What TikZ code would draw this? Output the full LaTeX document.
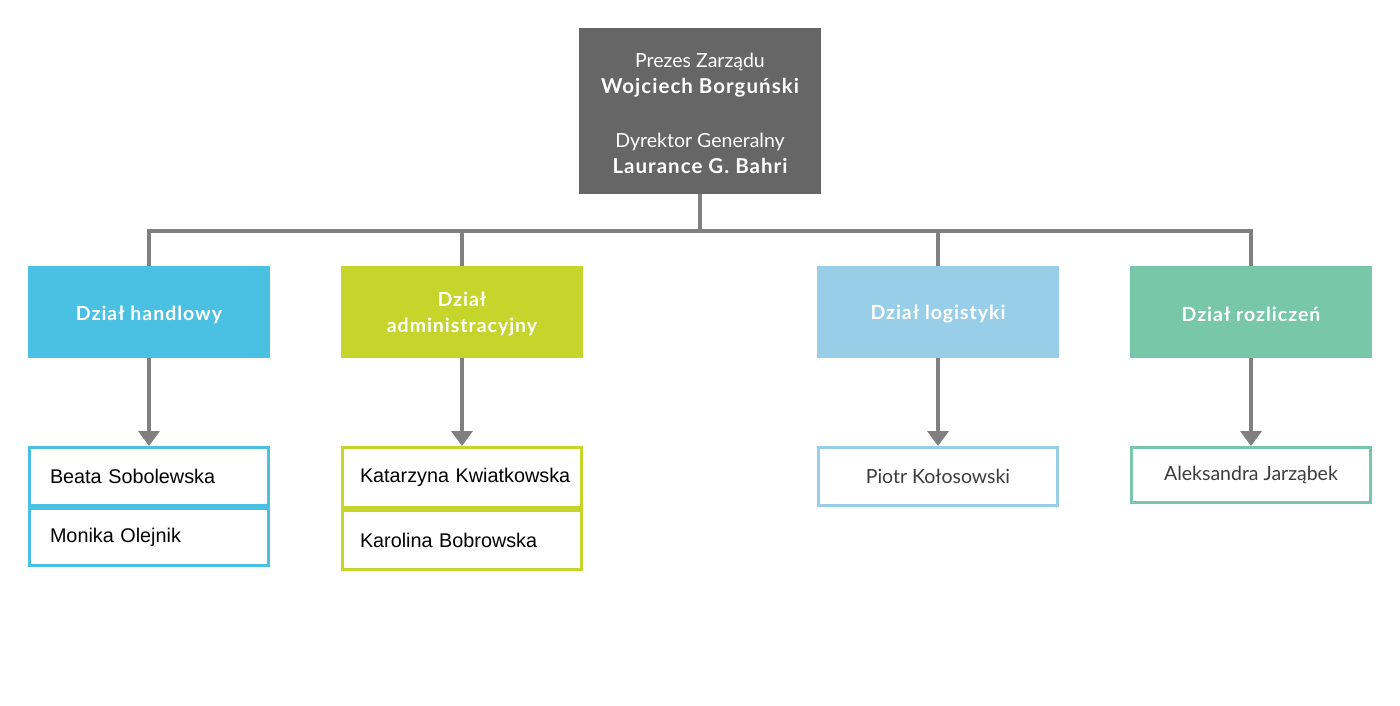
\documentclass[tikz,border=0pt]{standalone}
\usepackage{fontspec}
\setmainfont{Lato}[BoldFeatures={LetterSpace=5}]
\newfontfamily\arialf{Liberation Sans}
\usetikzlibrary{arrows.meta}
\definecolor{topgray}{RGB}{102,102,102}
\definecolor{linegray}{RGB}{128,128,128}
\definecolor{cblue}{RGB}{74,192,227}
\definecolor{cgreen}{RGB}{197,213,43}
\definecolor{clight}{RGB}{153,206,232}
\definecolor{cmint}{RGB}{119,199,168}
\definecolor{namegray}{RGB}{60,60,60}
\begin{document}
\begin{tikzpicture}[x=1pt,y=-1pt,
  topbox/.style={fill=topgray, minimum width=242pt, minimum height=166pt, inner sep=0pt},
  toptext/.style={text=white, inner sep=0pt, align=center, font=\fontsize{19.5}{26}\selectfont},
  dept/.style={fill=#1, minimum width=242pt, minimum height=92pt, inner sep=0pt},
  depttext/.style={text=white, inner sep=0pt, align=center, font=\fontsize{19.5}{26}\selectfont\bfseries},
  person/.style={draw=#1, line width=3pt, fill=white, minimum width=239pt, inner sep=0pt},
  pleft/.style={text width=#1, align=left, font=\arialf\fontsize{19.8}{22}\selectfont, text=black},
  pcent/.style={align=center, font=\fontsize{19.5}{22}\selectfont, text=namegray},
  conn/.style={draw=linegray, line width=4pt},
  arr/.style={draw=linegray, line width=4pt, -{Triangle[width=21pt,length=15pt]}}
]
\useasboundingbox (0,0) rectangle (1400,706);
\fill[white] (0,0) rectangle (1400,706);

\node[topbox] (top) at (700,111) {};
\node[toptext, yshift=-2.5pt] (toptxt) at (top.center) {Prezes Zarządu\\[0pt]{\bfseries\fontsize{20.5}{26}\selectfont Wojciech\ Borguński}\\[28pt]Dyrektor Generalny\\[0pt]{\bfseries\fontsize{20.5}{26}\selectfont Laurance G. Bahri}};

\node[dept=cblue] (d1) at (149,312) {};
\node[dept=cgreen] (d2) at (462,312) {};
\node[dept=clight] (d3) at (938,312) {};
\node[dept=cmint] (d4) at (1251,312) {};
\node[depttext, yshift=-2.5pt] (d1t) at (d1.center) {Dział handlowy};
\node[depttext, yshift=-2pt] (d2t) at (d2.center) {Dział\\[0pt]administracyjny};
\node[depttext, yshift=-2.5pt] (d3t) at (d3.center) {Dział logistyki};
\node[depttext, yshift=-2.5pt] (d4t) at (d4.center) {Dział rozliczeń};

\coordinate (bus) at (700,231);
\draw[conn] (top.south) -- (bus);
\draw[conn] (bus) -| (d1.north);
\draw[conn] (bus) -| (d2.north);
\draw[conn] (bus) -| (d3.north);
\draw[conn] (bus) -| (d4.north);

\node[person=cblue, minimum height=58pt, pleft=198pt] (p1a) at (149,476.5) {Beata Sobolewska};
\node[person=cblue, minimum height=57pt, pleft=198pt] (p1b) at (149,537) {\raisebox{-3pt}{Monika Olejnik}};
\node[person=cgreen, minimum height=60pt, pleft=204pt] (p2a) at (462,477.5) {\mbox{Katarzyna Kwiatkowska}};
\node[person=cgreen, minimum height=59pt, pleft=204pt] (p2b) at (462,540) {Karolina Bobrowska};
\node[person=clight, minimum height=58pt, pcent] (p3) at (938,476.5) {Piotr Kołosowski};
\node[person=cmint, minimum height=55pt, pcent] (p4) at (1251,475) {Aleksandra Jarząbek};

\draw[arr] (d1.south) -- (p1a.north);
\draw[arr] (d2.south) -- (p2a.north);
\draw[arr] (d3.south) -- (p3.north);
\draw[arr] (d4.south) -- (p4.north);
\end{tikzpicture}
\end{document}
